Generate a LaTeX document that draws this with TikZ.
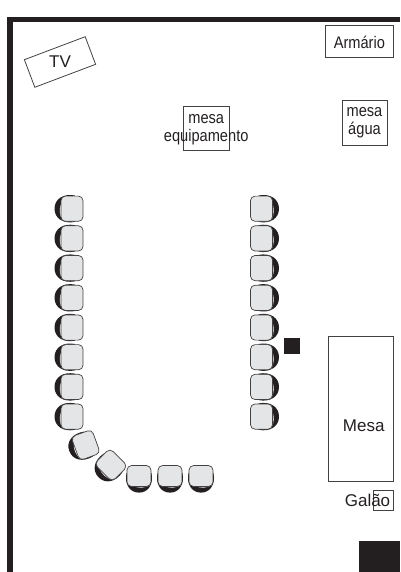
\documentclass[tikz,border=0pt]{standalone}
\usepackage{fontspec}
\setmainfont{Liberation Sans}
\newfontfamily\narrowfont[FakeStretch=0.87]{Liberation Sans}
\definecolor{inkblack}{HTML}{231F20}
\definecolor{seatgray}{HTML}{E4E5E6}
\begin{document}
\begin{tikzpicture}[
    x=1pt, y=-1pt,
    furniture/.style={rectangle, draw=inkblack!85, line width=0.8pt, inner sep=0pt},
    solidblock/.style={rectangle, fill=inkblack, inner sep=0pt},
    wall/.style={fill=inkblack},
    caption/.style={inner sep=0pt, align=center, text=inkblack, font=\narrowfont\fontsize{16.8}{18}\selectfont},
    bigcaption/.style={inner sep=0pt, text=inkblack, font=\fontsize{17}{20}\selectfont},
    chair/.pic={
        \fill[inkblack] (3,-13.2) .. controls (-9,-15.5) and (-17.5,-9.5) .. (-17.5,0) .. controls (-17.5,9.5) and (-9,15.5) .. (3,13.2) -- cycle;
        \fill[white] (-10.5,-6) .. controls (-13,-1) and (-13,6) .. (-9.5,12) -- cycle;
        \draw[draw=inkblack!85, line width=0.7pt, fill=seatgray, rounded corners=4.5pt] (-11,-12.6) rectangle (11,12.6);
    }
]

% Room walls
\fill[wall] (7,17) rectangle (400,22.5);
\fill[wall] (7,17) rectangle (12.8,572);
\useasboundingbox (0,0) rectangle (400,572);

% Furniture
\node (tv) [furniture, minimum width=65pt, minimum height=29.5pt, rotate=20.7] at (60,62) {};
\node (armario) [furniture, minimum width=68.5pt, minimum height=31.5pt] at (359.4,41.2) {};
\node (mesaequip) [furniture, minimum width=45.5pt, minimum height=44.5pt] at (206.2,128.4) {};
\node (mesaagua) [furniture, minimum width=45pt, minimum height=45pt] at (364.5,123.4) {};
\node (mesa) [furniture, minimum width=65.5pt, minimum height=144.5pt] at (360.9,409) {};
\node (galao) [furniture, minimum width=20pt, minimum height=20pt] at (383,500) {};

% Solid blocks
\node (pilar) [solidblock, minimum width=16pt, minimum height=16pt] at (292,346) {};
\node (bloco) [solidblock, minimum width=41pt, minimum height=31pt] at (379.5,556.5) {};

% Labels
\node at (tv) [bigcaption] {TV};
\node at (359.4,42.7) [caption] {Armário};
\node at (206.2,130) [caption] {mesa\\equipamento};
\node at (364.5,122.5) [caption] {mesa\\água};
\node at (363.7,425.5) [bigcaption] {Mesa};
\node at (367.5,500) [bigcaption] {Galão};

% Chairs
\foreach \row in {0,...,7} {
    \pic at (72,{208.7+29.7*\row}) {chair};
    \pic[xscale=-1] at (261.5,{208.7+29.7*\row}) {chair};
}
\pic[rotate=20] at (85.7,445) {chair};
\pic[rotate=45] at (111,465) {chair};
\foreach \col in {139,170,201} {
    \pic[rotate=90, yscale=0.95, xscale=0.95] at (\col,476) {chair};
}

\end{tikzpicture}
\end{document}
